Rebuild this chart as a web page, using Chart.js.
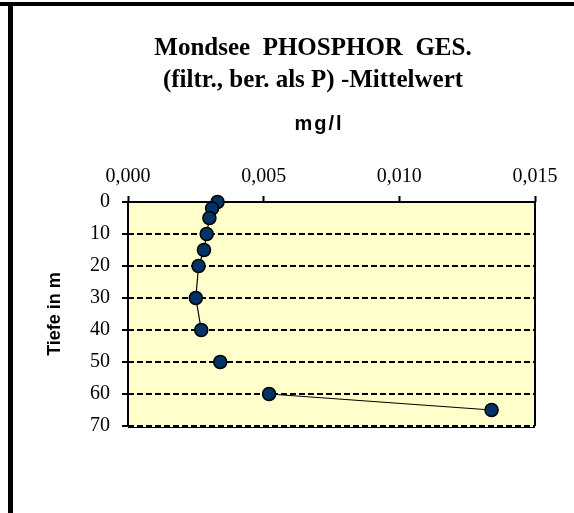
<!DOCTYPE html>
<html>
<head>
<meta charset="utf-8">
<title>Mondsee Phosphor</title>
<script src="https://cdn.jsdelivr.net/npm/chart.js@4.4.1/dist/chart.umd.min.js"></script>
<style>
  html, body { margin: 0; padding: 0; background: #fff; }
  #wrap { position: relative; width: 574px; height: 513px; }
</style>
</head>
<body>
<div id="wrap"><canvas id="chart" width="574" height="513"></canvas></div>
<script>
// Data (depth in m, concentration in mg/l)
// null = no value at that depth, so the line is broken there
const depths = [0, 2, 5, 10, 15, 20, 30, 40, 45, 50, 55, 60, 65];
const phosphor = [0.0033, 0.0031, 0.0030, 0.0029, 0.0028, 0.0026, 0.0025, 0.0027, null, 0.0034, null, 0.0052, 0.0134];

const xTicks = [0, 0.005, 0.010, 0.015];
const yTicks = [0, 10, 20, 30, 40, 50, 60, 70];

const titleLines = ["Mondsee  PHOSPHOR  GES.", "(filtr., ber. als P) -Mittelwert"];
const unitLabel = "mg/l";
const depthLabel = "Tiefe in m";

const points = depths.map((d, i) => ({ x: phosphor[i], y: d }));

// plot background, box, titles and the outer frame
const decorations = {
  id: "decorations",
  beforeDraw(chart) {
    const { ctx, chartArea: a } = chart;
    ctx.save();
    ctx.fillStyle = "#FFFFCC";
    ctx.fillRect(a.left, a.top, a.right - a.left, a.bottom - a.top);
    ctx.restore();
  },
  beforeDatasetsDraw(chart) {
    const { ctx, chartArea: a } = chart;
    ctx.save();
    ctx.strokeStyle = "#000";
    ctx.lineWidth = 2;
    ctx.beginPath();
    ctx.moveTo(a.left, a.bottom);
    ctx.lineTo(a.left, a.top);
    ctx.lineTo(a.right, a.top);
    ctx.lineTo(a.right, a.bottom);
    ctx.stroke();
    ctx.lineWidth = 1;
    ctx.beginPath();
    ctx.moveTo(a.left, a.bottom + 1.5);
    ctx.lineTo(a.right, a.bottom + 1.5);
    ctx.stroke();
    ctx.restore();
  },
  afterDraw(chart) {
    const { ctx } = chart;
    ctx.save();
    ctx.fillStyle = "#000";
    ctx.textAlign = "center";
    ctx.textBaseline = "alphabetic";
    ctx.font = "bold 25px 'Liberation Serif', 'Times New Roman', serif";
    ctx.fillText(titleLines[0], 313, 55);
    ctx.fillText(titleLines[1], 313, 87);
    ctx.font = "bold 20px 'Liberation Sans', Arial, sans-serif";
    ctx.letterSpacing = "2px";
    ctx.fillText(unitLabel, 319, 130);
    ctx.letterSpacing = "0px";
    // outer frame
    ctx.fillRect(0, 2, 574, 4);
    ctx.fillRect(8, 2, 5, 511);
    ctx.restore();
  }
};

const ctx = document.getElementById("chart").getContext("2d");
new Chart(ctx, {
  type: "scatter",
  data: {
    datasets: [{
      data: points,
      showLine: true,
      spanGaps: false,
      borderColor: "#000",
      borderWidth: 1.2,
      pointRadius: 6.5,
      pointBorderWidth: 1.5,
      pointBackgroundColor: "#003366",
      pointBorderColor: "#000",
      clip: false
    }]
  },
  options: {
    responsive: false,
    animation: false,
    devicePixelRatio: 1,
    layout: { padding: { left: 12, right: 39, top: 162, bottom: 87 } },
    plugins: {
      legend: { display: false },
      title: { display: false },
      tooltip: { enabled: false }
    },
    scales: {
      x: {
        type: "linear",
        position: "top",
        min: 0,
        max: 0.015,
        afterBuildTicks: (scale) => { scale.ticks = xTicks.map(v => ({ value: v })); },
        afterFit: (scale) => { scale.height = 40; },
        border: { display: false },
        grid: {
          drawOnChartArea: false,
          drawTicks: true,
          tickLength: 6,
          tickWidth: 2,
          tickColor: "#000"
        },
        ticks: {
          color: "#000",
          padding: 7,
          font: { family: "'Liberation Serif', 'Times New Roman', serif", size: 20 },
          callback: (v) => v.toFixed(3).replace(".", ",")
        }
      },
      y: {
        type: "linear",
        reverse: true,
        min: 0,
        max: 70,
        afterBuildTicks: (scale) => { scale.ticks = yTicks.map(v => ({ value: v })); },
        afterFit: (scale) => { scale.width = 116; },
        border: { display: false, dash: [6, 3] },
        grid: {
          color: "#000",
          lineWidth: 2,
          drawTicks: true,
          tickLength: 6,
          tickWidth: 2,
          tickColor: "#000",
          tickBorderDash: []
        },
        ticks: {
          color: "#000",
          padding: 12,
          font: { family: "'Liberation Serif', 'Times New Roman', serif", size: 20 }
        },
        title: {
          display: true,
          text: depthLabel,
          color: "#000",
          padding: { top: 32, bottom: 0 },
          font: { family: "'Liberation Sans', Arial, sans-serif", size: 18, weight: "bold" }
        }
      }
    }
  },
  plugins: [decorations]
});
</script>
</body>
</html>
